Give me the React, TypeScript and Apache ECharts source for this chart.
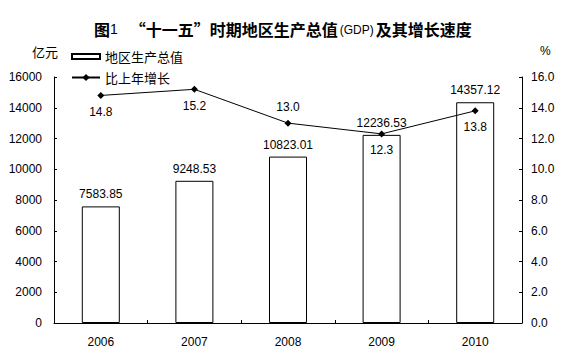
import React, { useEffect, useRef } from "react";
import * as echarts from "echarts";

const years = ["2006", "2007", "2008", "2009", "2010"];
const gdp = [7583.85, 9248.53, 10823.01, 12236.53, 14357.12];
const growth = [14.8, 15.2, 13.0, 12.3, 13.8];
const growthLabelPos = ["bottom", "bottom", "top", "bottom", "bottom"];
const leftTicks = { min: 0, max: 16000, interval: 2000 };
const rightTicks = { min: 0, max: 16, interval: 2 };

const FONT = "'Liberation Sans', Arial, 'Noto Sans CJK SC', sans-serif";
const CJK = "'Noto Sans CJK SC', sans-serif";

export default function App() {
  const ref = useRef<HTMLDivElement>(null);
  useEffect(() => {
    if (!ref.current) return;
    const chart = echarts.init(ref.current, null, { renderer: "svg" });
    chart.setOption({
      animation: false,
      backgroundColor: "#ffffff",
      title: {
        left: 89,
        top: 16,
        text: "{a|图}{n|1}{s| }{a|“十一五”时期地区生产总值}{g|(GDP)}{a|及其增长速度}",
        textStyle: {
          rich: {
            a: { fontFamily: CJK, fontWeight: "bold", fontSize: 16, color: "#000" },
            n: { fontFamily: FONT, fontWeight: "normal", fontSize: 14, color: "#000" },
            s: { fontFamily: FONT, fontSize: 12, width: 12 },
            g: { fontFamily: FONT, fontWeight: "normal", fontSize: 12, color: "#000", padding: [2, 2, 0, 2] },
          },
        },
      },
      graphic: [
        { type: "text", left: 32, top: 45, style: { text: "亿元", font: `13px ${CJK}`, fill: "#000" } },
        { type: "text", left: 540, top: 45, style: { text: "%", font: `12px ${FONT}`, fill: "#000" } },
      ],
      legend: [
        {
          data: [{ name: "地区生产总值", icon: "rect" }],
          left: 66,
          top: 45,
          itemWidth: 28,
          itemHeight: 5,
          textStyle: { fontFamily: CJK, fontSize: 13, color: "#000" },
        },
        {
          data: ["比上年增长"],
          left: 66,
          top: 66,
          itemWidth: 28,
          itemHeight: 9,
          textStyle: { fontFamily: CJK, fontSize: 13, color: "#000" },
        },
      ],
      grid: { left: 54, right: 43, top: 77, bottom: 37 },
      xAxis: {
        type: "category",
        data: years,
        axisLine: { lineStyle: { color: "#000", width: 1 } },
        axisTick: { show: true, inside: true, length: 3, alignWithLabel: false, lineStyle: { color: "#000" } },
        axisLabel: { color: "#000", fontFamily: FONT, fontSize: 12, margin: 13 },
      },
      yAxis: [
        {
          type: "value",
          ...leftTicks,
          axisLine: { show: true, lineStyle: { color: "#000" } },
          axisTick: { show: true, inside: true, length: 3, lineStyle: { color: "#000" } },
          axisLabel: {
            color: "#000",
            fontFamily: FONT,
            fontSize: 12,
            margin: 12,
            formatter: (v: number) => String(v),
          },
          splitLine: { show: false },
        },
        {
          type: "value",
          ...rightTicks,
          position: "right",
          axisLine: { show: true, lineStyle: { color: "#000" } },
          axisTick: { show: true, inside: true, length: 3, lineStyle: { color: "#000" } },
          axisLabel: {
            color: "#000",
            fontFamily: FONT,
            fontSize: 12,
            margin: 9,
            formatter: (v: number) => v.toFixed(1),
          },
          splitLine: { show: false },
        },
      ],
      series: [
        {
          name: "地区生产总值",
          type: "bar",
          data: gdp,
          barWidth: 38,
          itemStyle: { color: "#ffffff", borderColor: "#000", borderWidth: 1 },
          label: {
            show: true,
            position: "top",
            distance: 6,
            color: "#000",
            fontFamily: FONT,
            fontSize: 12,
            formatter: (p: any) => p.value.toFixed(2),
          },
          z: 1,
        },
        {
          name: "比上年增长",
          type: "line",
          yAxisIndex: 1,
          data: growth.map((v, i) => ({
            value: v,
            label: { position: growthLabelPos[i] },
          })),
          symbol: "diamond",
          symbolSize: 7,
          lineStyle: { color: "#000", width: 1 },
          itemStyle: { color: "#000" },
          label: {
            show: true,
            distance: 7,
            color: "#000",
            fontFamily: FONT,
            fontSize: 12,
            formatter: (p: any) => Number(p.value).toFixed(1),
          },
          z: 3,
        },
      ],
    });
    return () => chart.dispose();
  }, []);
  return (
    <div
      ref={ref}
      style={{ position: "absolute", left: 0, top: 0, width: 565, height: 360 }}
    />
  );
}
